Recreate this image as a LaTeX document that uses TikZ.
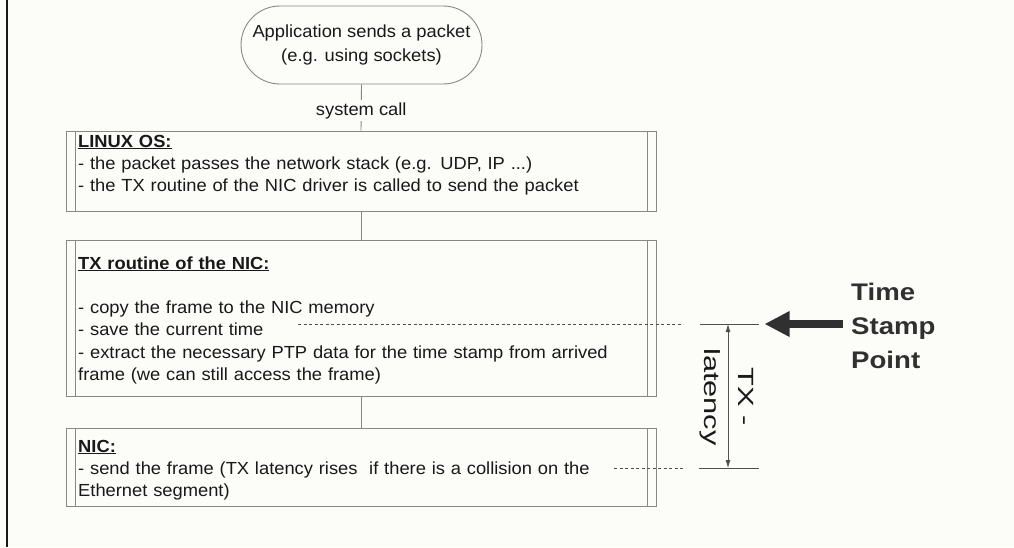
\documentclass[tikz,border=0pt]{standalone}
\usepackage{fontspec}
\setmainfont[FakeStretch=1.047]{Liberation Sans}
\newfontfamily\stampfont[FakeStretch=1.15]{Liberation Sans}
\newfontfamily\latfont[FakeStretch=1.4]{Liberation Sans}
\usetikzlibrary{arrows.meta}
\definecolor{paper}{RGB}{252,252,249}
\definecolor{edge}{RGB}{135,135,135}
\definecolor{ink}{RGB}{25,25,25}
\definecolor{dimgray}{RGB}{80,80,80}
\newcommand{\heading}[1]{\underline{\textbf{#1}}}
\tikzset{
  predef/.style={draw=edge, line width=0.9pt, minimum width=590pt, inner sep=0pt,
    path picture={
      \draw[edge, line width=0.9pt]
        ([xshift=9pt]path picture bounding box.north west) -- ([xshift=9pt]path picture bounding box.south west)
        ([xshift=-9pt]path picture bounding box.north east) -- ([xshift=-9pt]path picture bounding box.south east);}},
  terminal/.style={draw=edge, line width=0.9pt, rounded corners=39pt, minimum width=241pt,
    minimum height=78pt, inner sep=0pt, align=center, text=ink,
    font=\fontsize{17.5}{23.5}\selectfont},
  boxtext/.style={anchor=base west, inner sep=0pt, text width=575pt, align=left,
    text=ink, font=\fontsize{17.5}{22.3}\selectfont},
  link/.style={draw=edge, line width=0.9pt},
  timeline/.style={draw=dimgray, line width=0.9pt, dash pattern=on 3pt off 2.5pt},
  extline/.style={draw=dimgray, line width=0.9pt},
  dimline/.style={draw=dimgray, line width=0.8pt, {Latex[length=8pt,width=5pt]}-{Latex[length=8pt,width=5pt]}},
}
\begin{document}
\begin{tikzpicture}[x=1pt,y=-1pt]
\fill[paper] (0,0) rectangle (1014,547);
\useasboundingbox (0,0) rectangle (1014,547);

% page frame on the left
\coordinate (frametop) at (7,0);
\coordinate (framebot) at (7,547);
\draw[line width=2.4pt, ink] (frametop) -- (framebot);

% flow of the packet
\node[terminal] (app) at (361.5,45) {Application sends a packet\\(e.g. using sockets)};
\node[predef, minimum height=80pt] (linux) at (361,171) {};
\node[predef, minimum height=156pt] (txr) at (361,318.5) {};
\node[predef, minimum height=78pt] (nic) at (361,467) {};

\node[boxtext] (linuxtext) at (78,147) {\heading{LINUX OS:}\\
- the packet passes the network stack (e.g. UDP, IP ...)\\
- the TX routine of the NIC driver is called to send the packet};

\node[boxtext] (txrtext) at (78,269) {\heading{TX routine of the NIC:}\\
\mbox{}\\
- copy the frame to the NIC memory\\
- save the current time\\
- extract the necessary PTP data for the time stamp from arrived\\
frame (we can still access the frame)};

\node[boxtext] (nictext) at (78,452) {\heading{NIC:}\\
- send the frame (TX latency rises\ \ if there is a collision on the\\
Ethernet segment)};

% connectors
\draw[link] (app.south) -- node[fill=paper, inner sep=2pt, text=ink, yshift=-3pt,
  font=\fontsize{17.5}{20}\selectfont] (syscall) {system call} (linux.north);
\draw[link] (linux.south) -- (txr.north);
\draw[link] (txr.south) -- (nic.north);

% time stamp markers
\coordinate (savestart) at (298,324);
\coordinate (saveend) at (683,324);
\coordinate (sendstart) at (614,468);
\coordinate (sendend) at (685,468);
\draw[timeline] (savestart) -- (saveend);
\draw[timeline] (sendstart) -- (sendend);

\coordinate (extTa) at (700,324);
\coordinate (extTb) at (759,324);
\coordinate (extBa) at (699,468);
\coordinate (extBb) at (759,468);
\draw[extline] (extTa) -- (extTb);
\draw[extline] (extBa) -- (extBb);

\coordinate (dimtop) at (728,324);
\coordinate (dimbot) at (728,468);
\draw[dimline] (dimtop) -- (dimbot);

\node[rotate=-90, align=center, inner sep=0pt, text=ink,
  font=\latfont\fontsize{22}{34}\selectfont] (latency) at (727,397) {TX -\\latency};

% time stamp point arrow and label
\coordinate (arrowtail) at (843,324);
\coordinate (arrowtip) at (764.5,324);
\draw[line width=7.6pt, ink!90, -{Triangle[length=25pt,width=24pt]}] (arrowtail) -- (arrowtip);

\node[anchor=base west, inner sep=0pt, align=left, text=ink!90,
  font=\stampfont\bfseries\fontsize{24}{34}\selectfont] (tsp) at (851,368) {Time\\Stamp\\Point};
\end{tikzpicture}
\end{document}
